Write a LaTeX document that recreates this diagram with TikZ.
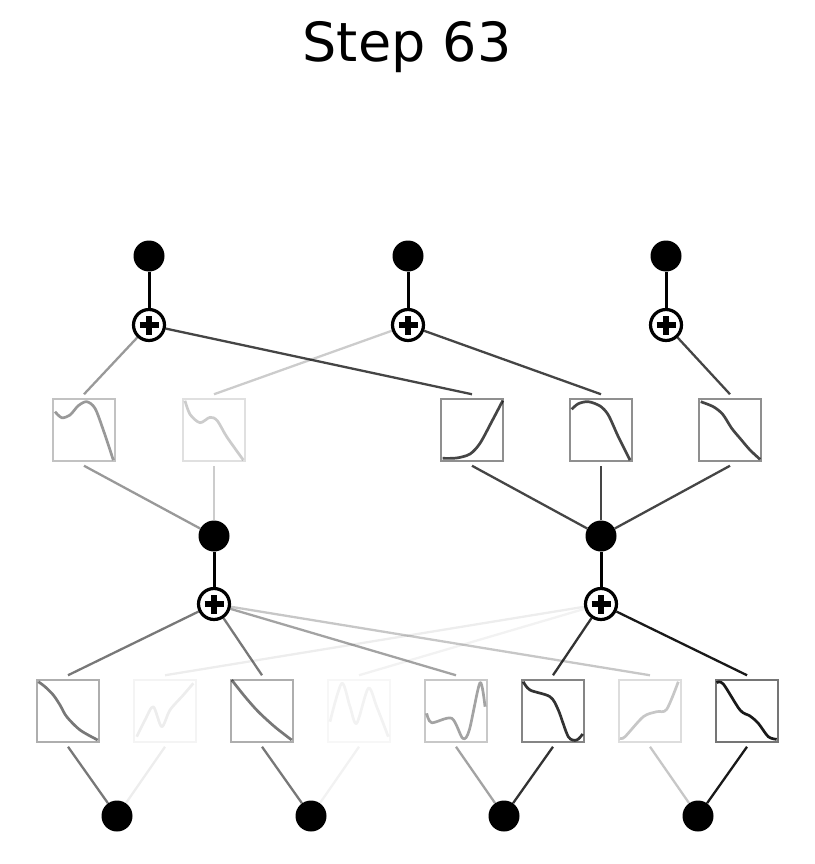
\documentclass[tikz,border=0pt]{standalone}
\usepackage{fontspec}
\setmainfont{DejaVu Sans}
\usetikzlibrary{backgrounds}

\begin{document}
\begin{tikzpicture}[x=1pt,y=-1pt,
	neuron/.style={circle,fill=black,minimum size=31pt,inner sep=0pt},
	adder/.style={circle,draw=black,line width=3.2pt,fill=white,minimum size=31pt,inner sep=0pt,
		path picture={\draw[line width=6pt] (path picture bounding box.center) ++(-9.5pt,0pt) -- ++(19pt,0pt);
			\draw[line width=6pt] (path picture bounding box.center) ++(0pt,-9.5pt) -- ++(0pt,19pt);}},
	fn/.style={draw=black!60,draw opacity=#1,line width=1.5pt,minimum size=62pt,inner sep=0pt},
	w/.style={draw=black,draw opacity=#1,line width=2.3pt},
	curve/.style={draw=black,draw opacity=#1,line width=2.7pt,line join=round}]
	\useasboundingbox (0,0) rectangle (814,864);
	\node[anchor=base,font=\fontsize{54}{60}\selectfont] (title) at (407,62) {Step 63};

	% outputs
	\node[neuron] (y0) at (149,256) {};
	\node[neuron] (y1) at (408,256) {};
	\node[neuron] (y2) at (666,256) {};
	\node[adder] (t0) at (149,325) {};
	\node[adder] (t1) at (408,325) {};
	\node[adder] (t2) at (666,325) {};

	% second layer functions
	\node[fn=0.40] (m1) at (84,430)  {};
	\node[fn=0.20] (m2) at (214,430) {};
	\node[fn=0.73] (m4) at (472,430) {};
	\node[fn=0.73] (m5) at (601,430) {};
	\node[fn=0.73] (m6) at (730,430) {};

	% hidden layer
	\node[neuron] (h0) at (214,536) {};
	\node[neuron] (h1) at (601,536) {};
	\node[adder] (s0) at (214,604) {};
	\node[adder] (s1) at (601,604) {};

	% first layer functions
	\node[fn=0.53] (b1) at (68,711)  {};
	\node[fn=0.07] (b2) at (165,711) {};
	\node[fn=0.53] (b3) at (262,711) {};
	\node[fn=0.05] (b4) at (359,711) {};
	\node[fn=0.36] (b5) at (456,711) {};
	\node[fn=0.80] (b6) at (553,711) {};
	\node[fn=0.22] (b7) at (650,711) {};
	\node[fn=0.90] (b8) at (747,711) {};

	% inputs
	\node[neuron] (x0) at (117,816) {};
	\node[neuron] (x1) at (311,816) {};
	\node[neuron] (x2) at (504,816) {};
	\node[neuron] (x3) at (698,816) {};

	% curves
	\draw[curve=0.40,shift={(m1.center)}] plot[smooth] coordinates {(-29,-18.3) (-22.3,-12.3) (-14,-15) (-5.7,-24.3) (2.7,-28.3) (11,-21.7) (19.3,0) (29.3,30)};
	\draw[curve=0.20,shift={(m2.center)}] plot[smooth] coordinates {(-29,-29.3) (-24,-15.7) (-14,-7.3) (-4,-12.7) (3.3,-9.3) (12.7,6.7) (29.3,30)};
	\draw[curve=0.73,shift={(m4.center)}] plot[smooth] coordinates {(-29.3,28.3) (-15.3,28) (-2,24) (8,13.3) (19.7,-8.3) (30.7,-29.3)};
	\draw[curve=0.73,shift={(m5.center)}] plot[smooth] coordinates {(-29.3,-20.7) (-22.7,-26.3) (-12.7,-28.3) (-1,-24) (7.3,-15) (17.3,6.7) (29,30)};
	\draw[curve=0.73,shift={(m6.center)}] plot[smooth] coordinates {(-29.3,-28.3) (-16.7,-23.3) (-7.3,-15.7) (1.7,-1.7) (10,8.3) (20,20) (30,29.3)};
	\draw[curve=0.53,shift={(b1.center)}] plot[smooth] coordinates {(-29.7,-29.3) (-23,-24.3) (-14.7,-16) (-8,-6) (-1.3,5.7) (12,19) (29.7,29)};
	\draw[curve=0.07,shift={(b2.center)}] plot[smooth] coordinates {(-28.3,25.7) (-20,9) (-11.7,-4.3) (-3.3,15.7) (5,-1) (18.3,-16) (28.3,-27.7)};
	\draw[curve=0.53,shift={(b3.center)}] plot[smooth] coordinates {(-30.3,-31) (-17,-14.3) (-3.7,0.7) (13,16) (29.7,29)};
	\draw[curve=0.05,shift={(b4.center)}] plot[smooth] coordinates {(-29,10.7) (-17.3,-27.7) (-9,-4.3) (-2.3,12.3) (9.3,-22.7) (17.7,-4.3) (29.3,25.7)};
	\draw[curve=0.36,shift={(b5.center)}] plot[smooth] coordinates {(-29.3,2.3) (-24.3,11.7) (-4.3,7.3) (6.7,27.3) (13.3,19) (24,-28.3) (29,-4.3)};
	\draw[curve=0.80,shift={(b6.center)}] plot[smooth] coordinates {(-29.7,-29.3) (-23,-21) (-3,-14.3) (5.3,-1) (15.3,25.7) (23.7,29) (29.7,23)};
	\draw[curve=0.22,shift={(b7.center)}] plot[smooth] coordinates {(-30,27.3) (-25,25.7) (-6.7,5.7) (6.7,0.7) (16.7,-1.7) (28.3,-29.3)};
	\draw[curve=0.90,shift={(b8.center)}] plot[smooth] coordinates {(-30.3,-28.3) (-23.7,-27) (-7,-1) (3,5) (11.3,12.3) (21.3,25.7) (29.7,28.3)};

	\begin{scope}[on background layer]
		\draw[line width=3pt] (y0) -- (t0) (y1) -- (t1) (y2) -- (t2) (h0) -- (s0) (h1) -- (s1);
		\path
			(x0) edge[w=0.53] ([yshift=-4pt]b1.south)
			(x0) edge[w=0.07] ([yshift=-4pt]b2.south)
			(x1) edge[w=0.53] ([yshift=-4pt]b3.south)
			(x1) edge[w=0.05] ([yshift=-4pt]b4.south)
			(x2) edge[w=0.36] ([yshift=-4pt]b5.south)
			(x2) edge[w=0.80] ([yshift=-4pt]b6.south)
			(x3) edge[w=0.22] ([yshift=-4pt]b7.south)
			(x3) edge[w=0.90] ([yshift=-4pt]b8.south)
			([yshift=4pt]b1.north) edge[w=0.53] (s0)
			([yshift=4pt]b2.north) edge[w=0.07] (s1)
			([yshift=4pt]b3.north) edge[w=0.53] (s0)
			([yshift=4pt]b4.north) edge[w=0.05] (s1)
			([yshift=4pt]b5.north) edge[w=0.36] (s0)
			([yshift=4pt]b6.north) edge[w=0.80] (s1)
			([yshift=4pt]b7.north) edge[w=0.22] (s0)
			([yshift=4pt]b8.north) edge[w=0.90] (s1)
			(h0) edge[w=0.40] ([yshift=-4pt]m1.south)
			(h0) edge[w=0.20] ([yshift=-4pt]m2.south)
			(h1) edge[w=0.73] ([yshift=-4pt]m4.south)
			(h1) edge[w=0.73] ([yshift=-4pt]m5.south)
			(h1) edge[w=0.73] ([yshift=-4pt]m6.south)
			([yshift=4pt]m1.north) edge[w=0.40] (t0)
			([yshift=4pt]m2.north) edge[w=0.20] (t1)
			([yshift=4pt]m4.north) edge[w=0.73] (t0)
			([yshift=4pt]m5.north) edge[w=0.73] (t1)
			([yshift=4pt]m6.north) edge[w=0.73] (t2);
	\end{scope}
\end{tikzpicture}
\end{document}
